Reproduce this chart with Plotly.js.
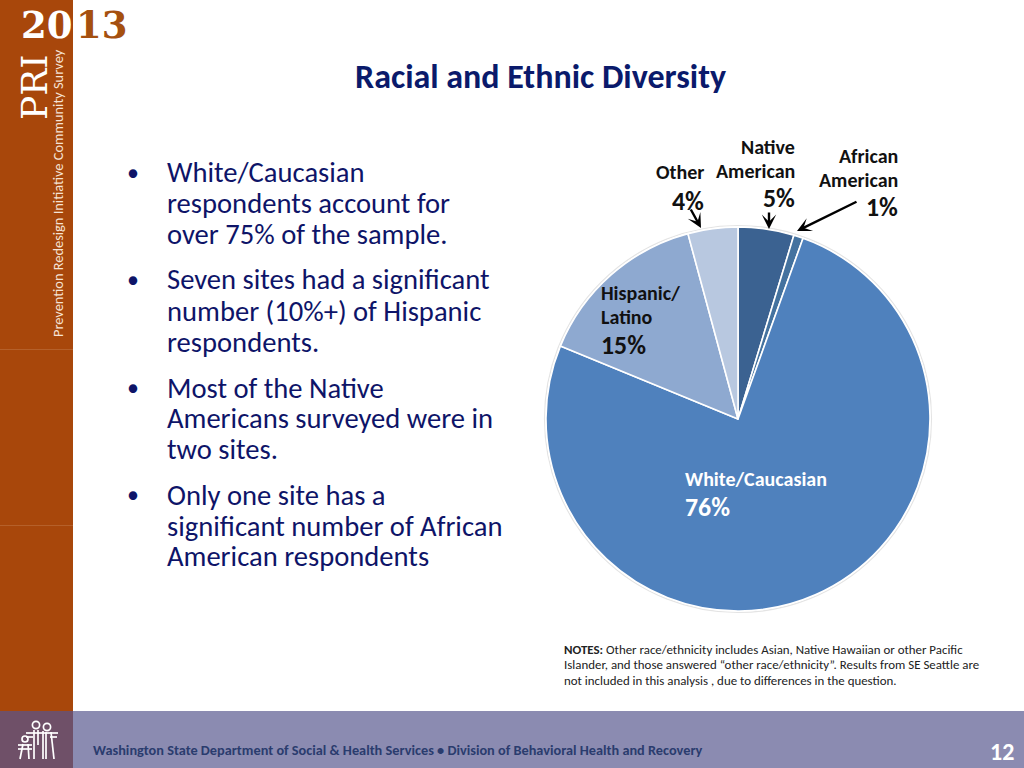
<!DOCTYPE html>
<html>
<head>
<meta charset="utf-8">
<script src="https://cdn.plot.ly/plotly-3.0.1.min.js"></script>
<style>html,body{margin:0;padding:0;background:#fff}#chart{width:1024px;height:768px}svg text{font-variant-ligatures:none}</style>
</head>
<body>
<div id="chart"></div>
<script>
// Chart data
var categories = ["Native American", "African American", "White/Caucasian", "Hispanic/Latino", "Other"];
var shares = [4.7, 0.8, 75.7, 14.6, 4.2];
var sliceColors = ["#3b6291", "#44729f", "#4f81bd", "#8ea9d0", "#b8c8e0"];

// Slide text
var titleText = "Racial and Ethnic Diversity";
var bodyLines = [
  ["White/Caucasian", 173], ["respondents account for", 203], ["over 75% of the sample.", 234],
  ["Seven sites had a significant", 280], ["number (10%+) of Hispanic", 311], ["respondents.", 342],
  ["Most of the Native", 388], ["Americans surveyed were in", 418], ["two sites.", 449],
  ["Only one site has a", 495], ["significant number of African", 526], ["American respondents", 556]
];
var bulletRows = [172, 279, 387, 494];
var noteLines = [
  ["<b>NOTES:</b> Other race/ethnicity includes Asian, Native Hawaiian or other Pacific", 649],
  ["Islander, and those answered “other race/ethnicity”. Results from SE Seattle are", 664],
  ["not included in this analysis , due to differences in the question.", 680]
];
var footerText = "Washington State Department of Social & Health Services • Division of Behavioral Health and Recovery";

var W = 1024, H = 768;
function fx(x){ return x / W; }
function fy(y){ return 1 - y / H; }
var SANS = "Carlito, Calibri, Lato, sans-serif";
var SERIF = "'DejaVu Serif', serif";
var NAVY = "#0e1468";

var ann = [];
function txt(s, x, y, size, color, anchor, extra){
  var a = {text:s, x:fx(x), y:fy(y), xref:"paper", yref:"paper", showarrow:false,
    xanchor:anchor||"left", yanchor:"middle", align:anchor||"left",
    font:{family:SANS, size:size, color:color}, borderpad:0, borderwidth:0};
  for (var k in (extra||{})) a[k] = extra[k];
  ann.push(a);
}
function arrow(x0, y0, x1, y1){
  ann.push({text:"", x:fx(x1), y:fy(y1), xref:"paper", yref:"paper", ax:x0-x1, ay:y0-y1,
    axref:"pixel", ayref:"pixel", showarrow:true, arrowhead:3, arrowsize:1, arrowwidth:2.4, arrowcolor:"#000"});
}

txt("<b>"+titleText+"</b>", 540, 77, 34, "#0a1a6b", "center");
bodyLines.forEach(function(l){ txt(l[0], 167, l[1], 28.6, NAVY); });
bulletRows.forEach(function(y){ txt("•", 133, y, 24, NAVY, "center"); });
noteLines.forEach(function(l){ txt(l[0], 564, l[1], 12.9, "#222"); });

// Slice labels
var LBL = 20, PCT = 25.8, INK = "#111";
txt("<b>Native</b>", 795, 147, LBL, INK, "right");
txt("<b>American</b>", 795, 171, LBL, INK, "right");
txt("<b>5%</b>", 795, 198, PCT, INK, "right");
txt("<b>African</b>", 898, 156, LBL, INK, "right");
txt("<b>American</b>", 898, 180, LBL, INK, "right");
txt("<b>1%</b>", 898, 207, PCT, INK, "right");
txt("<b>Other</b>", 704, 172, LBL, INK, "right");
txt("<b>4%</b>", 704, 201, PCT, INK, "right");
txt("<b>Hispanic/</b>", 601, 293, LBL, INK);
txt("<b>Latino</b>", 601, 317, LBL, INK);
txt("<b>15%</b>", 601, 345, PCT, INK);
txt("<b>White/Caucasian</b>", 685, 479, LBL, "#fff");
txt("<b>76%</b>", 685, 507, PCT, "#fff");

arrow(769, 211, 769, 229);
arrow(690, 208, 701, 228);
arrow(858, 201, 797, 231);

// Sidebar and footer branding
txt("Prevention Redesign Initiative Community Survey", 58, 193, 14.4, "#f6e3d5", "center", {textangle:-90});
txt("PRI", 34, 87, 34, "#fff", "center", {textangle:-90, font:{family:SERIF, size:36, color:"#fff"}});
txt("<b>20</b>", 21, 25, 37, "#fff", "left", {font:{family:SERIF, size:37, color:"#fff"}});
txt("<b>13</b>", 76, 25, 37, "#a5500f", "left", {font:{family:SERIF, size:37, color:"#a5500f"}});
txt("<b>"+footerText.replace(/&/g,"&amp;")+"</b>", 93, 750, 14.3, "#2a3c6e");
txt("<b>12</b>", 1014, 751, 24, "#fff", "right");

function rect(x0,y0,x1,y1,fill,layer){
  return {type:"rect", xref:"paper", yref:"paper", x0:fx(x0), x1:fx(x1), y0:fy(y0), y1:fy(y1),
    fillcolor:fill, line:{width:0}, layer:layer||"below"};
}
function pathOf(pts){
  return pts.map(function(p,i){ return (i?"L":"M")+fx(p[0])+","+fy(p[1]); }).join(" ");
}
function stroke(pts){
  return {type:"path", xref:"paper", yref:"paper", path:pathOf(pts), line:{color:"#fff", width:1.7}, layer:"above"};
}
function ring(cx,cy,r){
  return {type:"circle", xref:"paper", yref:"paper", x0:fx(cx-r), x1:fx(cx+r), y0:fy(cy+r), y1:fy(cy-r),
    line:{color:"#fff", width:1.7}, fillcolor:"rgba(0,0,0,0)", layer:"above"};
}

var shapes = [
  rect(0,0,73,711,"#a8470b"),
  rect(0,349,73,350,"#b5602a"),
  rect(0,525,73,526,"#b5602a"),
  rect(73,711,W,H,"#8b8bb1"),
  rect(0,711,73,H,"#6f5068"),
  // soft halo around the pie
  {type:"circle", xref:"paper", yref:"paper", x0:fx(544.5), x1:fx(931.5), y0:fy(612.5), y1:fy(225.5),
   fillcolor:"rgba(0,0,0,0)", line:{color:"#e4e4e4", width:1.2}, layer:"below"},
  // logo: adult figures and child
  ring(36,725,3.6), ring(47,727,3.6), ring(25,739,3),
  stroke([[26,733],[58,733]]), stroke([[26,737],[33,737]]), stroke([[50,737],[57,737]]),
  stroke([[34,730],[34,759]]), stroke([[38,730],[38,745]]), stroke([[43,731],[43,759]]),
  stroke([[46,732],[46,759]]), stroke([[51,732],[54,759]]),
  stroke([[18,745],[32,745]]), stroke([[18,749],[32,749]]),
  stroke([[23,744],[20,759]]), stroke([[28,744],[29,759]])
];

var data = [{
  type:"pie", labels:categories, values:shares, sort:false, direction:"clockwise", rotation:0,
  marker:{colors:sliceColors, line:{color:"#ffffff", width:1.6}},
  textinfo:"none", hoverinfo:"label+percent", showlegend:false,
  domain:{x:[fx(546), fx(930)], y:[fy(611), fy(227)]}
}];

var layout = {
  width:W, height:H, margin:{l:0,r:0,t:0,b:0}, paper_bgcolor:"#fff", plot_bgcolor:"#fff",
  showlegend:false, annotations:ann, shapes:shapes
};
Plotly.newPlot("chart", data, layout, {displayModeBar:false, staticPlot:true});
</script>
</body>
</html>
